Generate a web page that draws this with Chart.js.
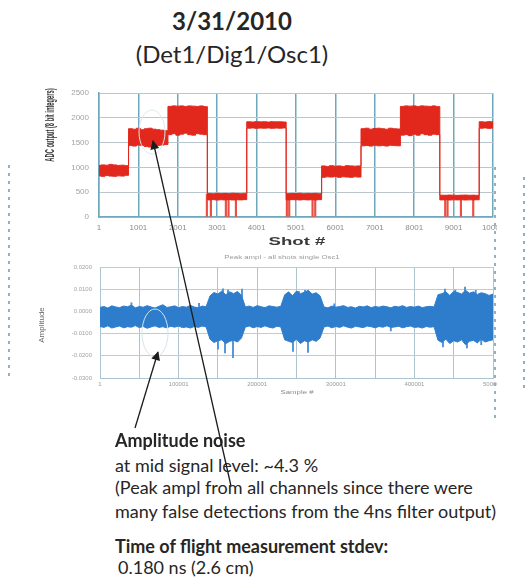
<!DOCTYPE html>
<html>
<head>
<meta charset="utf-8">
<script src="https://cdn.jsdelivr.net/npm/chart.js@4.4.0/dist/chart.umd.min.js"></script>
<style>
  html, body { margin: 0; padding: 0; background: #fff; }
  body { width: 526px; height: 582px; position: relative; overflow: hidden; font-family: Lato, 'Open Sans', sans-serif; color: #262626; }
  .abs { position: absolute; white-space: nowrap; }
  .big { left: 0; width: 464px; text-align: center; font-size: 24px; line-height: 28px; }
  .note { left: 115px; font-size: 18px; line-height: 22px; }
  .tiny { font-family: 'Liberation Sans', sans-serif; transform-origin: center center; }
  .dots { width: 2px; background: repeating-linear-gradient(to bottom, #8fb2c2 0 3px, transparent 3px 8px); }
  canvas { position: absolute; left: 0; }
</style>
</head>
<body>

<div class="abs big" style="top:7px;font-weight:bold">3/31/2010</div>
<div class="abs big" style="top:40px">(Det1/Dig1/Osc1)</div>

<canvas id="adcChart" width="497" height="172" style="top:80px"></canvas>
<canvas id="noiseChart" width="497" height="150" style="top:252px"></canvas>

<!-- axis titles, the chart pictures were stretched on the slide so the text is too -->
<div class="abs tiny" style="left:50px;top:125px;font-size:8px;font-weight:bold;color:#333;transform:translate(-50%,-50%) rotate(-90deg) scale(0.72,1.5)">ADC output (8 bit integers)</div>
<div class="abs tiny" style="left:297px;top:242px;font-size:12px;font-weight:bold;color:#3a3a3a;transform:translate(-50%,-50%) scale(1.55,0.85)">Shot #</div>
<div class="abs tiny" style="left:282px;top:257px;font-size:6px;color:#9a9a9a;transform:translate(-50%,-50%) scale(1.3,1)">Peak ampl - all shots single Osc1</div>
<div class="abs tiny" style="left:41px;top:325px;font-size:8px;color:#6a6a6a;transform:translate(-50%,-50%) rotate(-90deg)">Amplitude</div>
<div class="abs tiny" style="left:297px;top:392px;font-size:6px;color:#888;transform:translate(-50%,-50%) scale(1.3,1)">Sample #</div>

<div class="abs dots" style="left:8px;top:165px;height:215px"></div>
<div class="abs dots" style="left:494px;top:167px;height:253px"></div>
<div class="abs dots" style="left:523px;top:177px;height:213px"></div>

<div class="abs note" style="top:429px;font-weight:bold">Amplitude noise</div>
<div class="abs note" style="top:454px">at mid signal level: ~4.3 %</div>
<div class="abs note" style="top:476px">(Peak ampl from all channels since there were</div>
<div class="abs note" style="top:500px">many false detections from the 4ns filter output)</div>
<div class="abs note" style="top:535px;font-weight:bold">Time of flight measurement stdev:</div>
<div class="abs note" style="top:556px;left:118px">0.180 ns (2.6 cm)</div>

<svg class="abs" style="left:0;top:0" width="526" height="582">
  <defs>
    <marker id="head" viewBox="0 0 10 10" refX="9" refY="5" markerWidth="11" markerHeight="9" markerUnits="userSpaceOnUse" orient="auto">
      <path d="M0,0 L10,5 L0,10 z" fill="#1c1c1c"/>
    </marker>
  </defs>
  <ellipse cx="152" cy="132" rx="13" ry="22" fill="none" stroke="#dce8ee" stroke-width="1"/>
  <ellipse cx="155" cy="333" rx="13" ry="24" fill="none" stroke="#d3e4ec" stroke-width="1"/>
  <line x1="135" y1="428" x2="158" y2="352" stroke="#1c1c1c" stroke-width="1.3" marker-end="url(#head)"/>
  <line x1="231" y1="486" x2="153" y2="141" stroke="#1c1c1c" stroke-width="1.3" marker-end="url(#head)"/>
</svg>

<script>
// tick positions
const shotTicks = [1, 1001, 2001, 3001, 4001, 5001, 6001, 7001, 8001, 9001, 10001];
const sampleTicks = [1, 50001, 100001, 150001, 200001, 250001, 300001, 350001, 400001, 450001, 500001];
const shotBin = 100;     // ADC band read every 100 shots
const sampleBin = 5000;  // noise band read every 5000 samples

// top plot: upper and lower edge of the red band, one pair per 100 shots
const adcHigh = [
  1040, 1050, 1045, 1060, 1050, 1040, 1045, 1035,
  1780, 1770, 1790, 1760, 1780, 1790, 1770, 1760, 1750, 1740,
  2230, 2240, 2235, 2240, 2230, 2240, 2235, 2230, 2240, 2225,
  475, 470, 478, 472, 475, 470, 478, 474, 470, 476,
  1920, 1915, 1922, 1918, 1920, 1915, 1922, 1918, 1920, 1915,
  470, 475, 472, 478, 470, 475, 472, 476, 470,
  1030, 1020, 1035, 1025, 1030, 1020, 1035, 1030, 1025, 1030,
  1780, 1790, 1770, 1785, 1790, 1780, 1770, 1790, 1780, 1775,
  2230, 2240, 2235, 2240, 2230, 2240, 2235, 2230, 2240, 2225,
  440, 438, 442, 440, 436, 440, 442, 438, 440, 436,
  1920, 1915, 1922, 1918
];
const adcLow = [
  830, 820, 835, 825, 820, 830, 825, 840,
  1440, 1430, 1450, 1440, 1420, 1410, 1430, 1440, 1450, 1460,
  1660, 1680, 1650, 1670, 1690, 1660, 1650, 1680, 1670, 1660,
  345, 350, 342, 348, 345, 350, 344, 348, 345, 350,
  1790, 1795, 1788, 1792, 1790, 1795, 1788, 1792, 1790, 1795,
  345, 350, 348, 344, 350, 345, 348, 344, 350,
  800, 810, 805, 815, 800, 810, 805, 800, 810, 805,
  1435, 1440, 1430, 1445, 1435, 1440, 1430, 1445, 1440, 1435,
  1650, 1660, 1640, 1670, 1650, 1680, 1660, 1650, 1670, 1660,
  345, 348, 343, 346, 345, 348, 343, 346, 345, 348,
  1790, 1795, 1788, 1792
];
// missed detections dropping to zero in the low level blocks
const dropShots = [2758, 2860, 3240, 3308, 3495, 4788, 4848, 5440, 5508, 8807, 8866, 9206, 9518];
const dropLevel = [460, 460, 470, 470, 460, 465, 465, 470, 470, 430, 430, 435, 435];
// lighter stripes inside the two top level blocks
const streakShots = [1972, 2098, 2310, 2479, 2606, 7851, 8105, 8316, 8444];
const streakRange = [[1690, 2010], [1700, 1990], [1680, 2020], [1700, 2000], [1690, 1990],
                     [1660, 2000], [1680, 2010], [1670, 1990], [1690, 2000]];

// bottom plot: upper and lower edge of the blue band, one pair per 5000 samples
const noiseHigh = [
  18, 22, 15, 25, 20, 17, 24, 21, 28, 16, 22, 19, 26, 20, 15, 23, 30, 18, 21, 25, 17, 22, 19, 27, 20, 16, 24, 21,
  70, 85, 78, 92, 75, 88, 80, 90, 72,
  20, 24, 18, 26, 21, 17, 25, 22, 19, 23,
  75, 88, 70, 92, 80, 86, 95, 78, 84, 70,
  20, 16, 24, 19, 22, 26, 18, 21, 15, 23, 20, 25, 17, 22, 19, 24, 21, 16, 23, 20, 26, 18, 22, 19, 24, 17, 21, 23, 20,
  75, 80, 88, 72, 90, 85, 78, 95, 82, 88, 76, 84, 80, 72, 78
];
const noiseLow = [
  -68, -72, -65, -75, -70, -66, -74, -69, -71, -64, -73, -68, -76, -70, -65, -72, -69, -74, -67, -71, -66, -73, -70, -75, -68, -72, -66, -70,
  -125, -140, -132, -128, -145, -135, -130, -138, -120,
  -70, -66, -74, -68, -72, -65, -71, -75, -67, -70,
  -128, -135, -140, -125, -145, -132, -138, -128, -135, -120,
  -70, -66, -74, -68, -72, -65, -71, -75, -67, -70, -73, -66, -69, -74, -68, -71, -65, -72, -70, -67, -74, -69, -66, -72, -70, -75, -68, -71, -69,
  -130, -140, -125, -145, -132, -138, -128, -150, -135, -130, -142, -126, -138, -132, -128
];
// single outliers sticking out of the band
const spikeSamples = [40001, 126001, 150127, 156489, 159033, 162850, 169211, 180662, 245547, 253000, 260814, 264631,
                      298000, 370000, 436387, 438931, 452000, 464376, 466900, 478000, 485000];
const spikeRange = [[-20, 39], [-20, 36], [-60, -170], [40, 102], [-60, -187], [40, 96], [-60, -208], [40, 100],
                    [-60, -180], [40, 90], [40, 95], [-60, -185], [-20, 34], [-40, -88], [-60, -160], [40, 100],
                    [40, 96], [40, 110], [-60, -165], [40, 95], [-60, -150]];

// fixed axis sizes so the plot areas land where the slide has them
function pinAxis(size) {
  return function (scale) {
    if (scale.isHorizontal()) scale.height = size;
    else scale.width = size;
    scale.paddingLeft = 0;
    scale.paddingRight = 0;
    scale.paddingTop = 0;
    scale.paddingBottom = 0;
  };
}

function useTicks(list) {
  return function (scale) {
    scale.ticks = list.map(v => ({ value: v }));
  };
}

const red = '#e2281c';
const blue = '#2e7dcc';

new Chart(document.getElementById('adcChart').getContext('2d'), {
  type: 'line',
  data: {
    datasets: [
      {
        data: adcHigh.map((v, i) => ({ x: 1 + i * shotBin, y: v })),
        borderColor: red, borderWidth: 1, stepped: 'middle', pointRadius: 0, fill: false
      },
      {
        data: adcLow.map((v, i) => ({ x: 1 + i * shotBin, y: v })),
        borderColor: red, borderWidth: 1, stepped: 'middle', pointRadius: 0,
        backgroundColor: red, fill: '-1'
      },
      {
        type: 'bar',
        data: dropShots.map((s, i) => ({ x: s, y: [0, dropLevel[i]] })),
        backgroundColor: '#ea4f44', barThickness: 1.5
      },
      {
        type: 'bar',
        data: streakShots.map((s, i) => ({ x: s, y: streakRange[i] })),
        backgroundColor: '#f29a90', barThickness: 1.5
      }
    ]
  },
  options: {
    responsive: false,
    animation: false,
    layout: { padding: { top: 13, right: 4, left: 0, bottom: 0 } },
    plugins: { legend: { display: false }, tooltip: { enabled: false } },
    scales: {
      x: {
        type: 'linear',
        min: 1,
        max: 10001,
        offset: false,
        afterBuildTicks: useTicks(shotTicks),
        afterFit: pinAxis(35),
        grid: { color: '#6ea8bc', lineWidth: 1.5, drawTicks: false, offset: false },
        border: { color: '#6ea8bc', width: 1.5 },
        ticks: {
          autoSkip: false,
          maxRotation: 0,
          padding: 6,
          color: '#8c8c8c',
          font: { family: 'Liberation Sans', size: 8 },
          callback: v => String(v)
        }
      },
      y: {
        min: 0,
        max: 2500,
        afterFit: pinAxis(99),
        grid: { color: '#b9c6cb', lineWidth: 1, drawTicks: false },
        border: { color: '#6ea8bc', width: 1.5 },
        ticks: {
          stepSize: 500,
          padding: 10,
          color: '#a3a3a3',
          font: { family: 'Liberation Sans', size: 8 },
          callback: v => String(v)
        }
      }
    }
  }
});

new Chart(document.getElementById('noiseChart').getContext('2d'), {
  type: 'line',
  data: {
    datasets: [
      {
        data: noiseHigh.map((v, i) => ({ x: 1 + i * sampleBin, y: v })),
        borderColor: blue, borderWidth: 1, pointRadius: 0, tension: 0, fill: false
      },
      {
        data: noiseLow.map((v, i) => ({ x: 1 + i * sampleBin, y: v })),
        borderColor: blue, borderWidth: 1, pointRadius: 0, tension: 0,
        backgroundColor: blue, fill: '-1'
      },
      {
        type: 'bar',
        data: spikeSamples.map((s, i) => ({ x: s, y: spikeRange[i] })),
        backgroundColor: '#4a90d6', barThickness: 1.2
      }
    ]
  },
  options: {
    responsive: false,
    animation: false,
    layout: { padding: { top: 15, right: 4, left: 0, bottom: 0 } },
    plugins: { legend: { display: false }, tooltip: { enabled: false } },
    scales: {
      x: {
        type: 'linear',
        min: 1,
        max: 500001,
        offset: false,
        afterBuildTicks: useTicks(sampleTicks),
        afterFit: pinAxis(24),
        grid: { color: '#adc3ce', lineWidth: 1, drawTicks: false, offset: false },
        border: { color: '#adc3ce', width: 1 },
        ticks: {
          autoSkip: false,
          maxRotation: 0,
          padding: 3,
          color: '#9a9a9a',
          font: { family: 'Liberation Sans', size: 6 },
          callback: (v, i) => (i % 2 === 0 ? String(v) : '')
        }
      },
      y: {
        min: -300,
        max: 200,
        afterFit: pinAxis(100),
        grid: { color: '#c4cbce', lineWidth: 1, drawTicks: false },
        border: { color: '#adc3ce', width: 1 },
        ticks: {
          stepSize: 100,
          padding: 8,
          color: '#a3a3a3',
          font: { family: 'Liberation Sans', size: 6 },
          callback: v => (v / 10000).toFixed(4)
        }
      }
    }
  }
});
</script>
</body>
</html>
